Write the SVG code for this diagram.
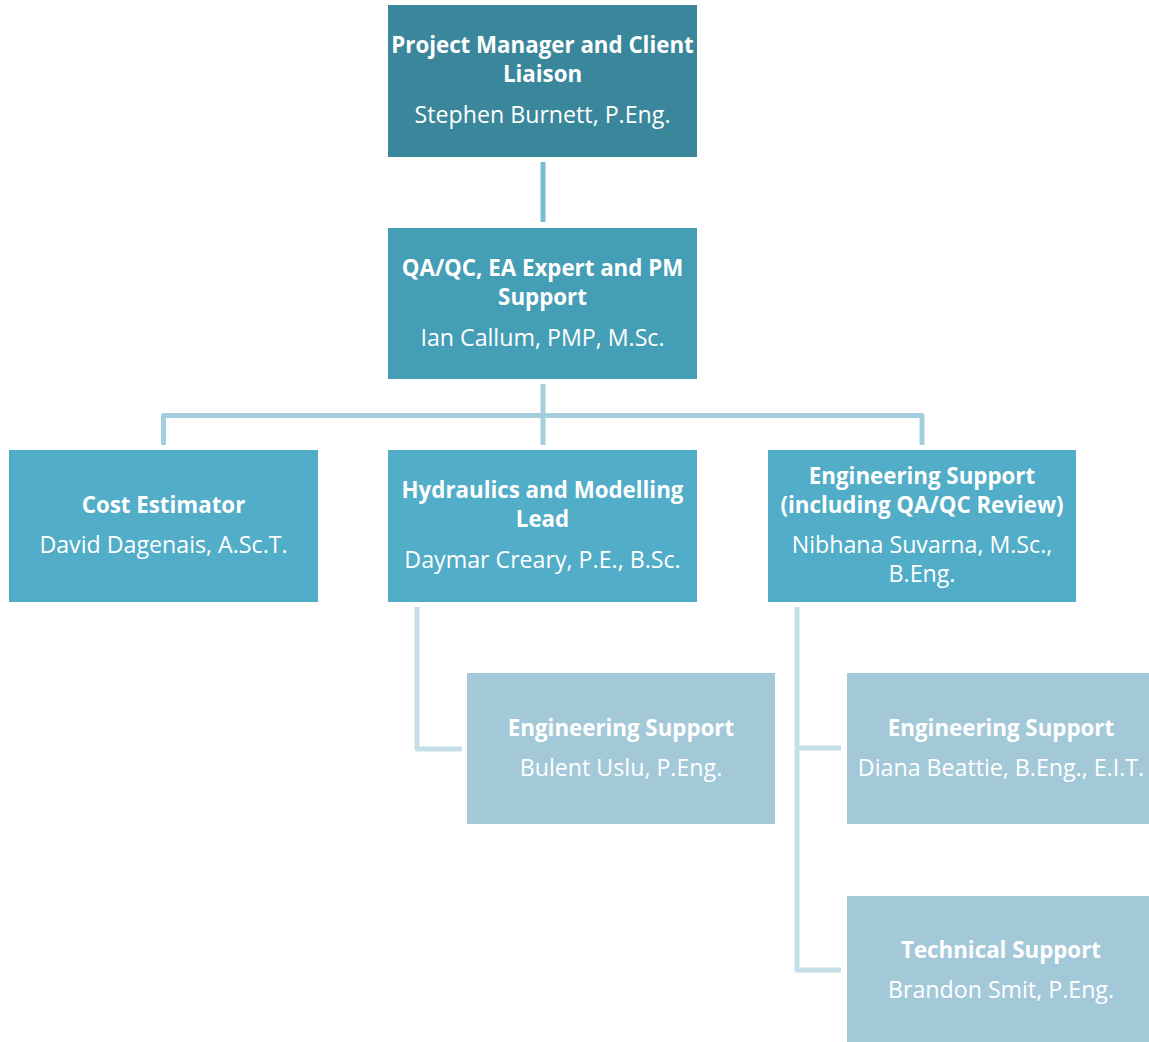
<svg xmlns="http://www.w3.org/2000/svg" width="1149" height="1042" viewBox="0 0 1149 1042">
<style>
.t{font-family:"Open Sans","Liberation Sans",sans-serif;font-size:23.2px;fill:#ffffff;text-anchor:middle}
.b{font-weight:bold;font-size:22.3px}
.c{fill:none;stroke-width:5;stroke-linejoin:round}
</style>
<rect width="1149" height="1042" fill="#ffffff"/>
<g id="connectors">
<line class="c" x1="543" y1="162" x2="543" y2="222" stroke="#79BCD2"/>
<path class="c" d="M543 384 V415.5 M163.5 445 V415.5 H922 V445 M543 415.5 V445" stroke="#A5CEDC"/>
<path class="c" d="M417 607 V749 H462" stroke="#C4DFE8"/>
<path class="c" d="M797 607 V970 H841 M797 748 H841" stroke="#C4DFE8"/>
</g>
<g id="pm">
<rect x="388" y="5" width="309" height="152" fill="#3A879B"/>
<text class="t b" x="542.5" y="53">Project Manager and Client</text>
<text class="t b" x="542.5" y="82">Liaison</text>
<text class="t" x="542.5" y="123">Stephen Burnett, P.Eng.</text>
</g>
<g id="qa">
<rect x="388" y="228" width="309" height="151" fill="#449EB5"/>
<text class="t b" x="542.5" y="276">QA/QC, EA Expert and PM</text>
<text class="t b" x="542.5" y="305">Support</text>
<text class="t" x="542.5" y="346">Ian Callum, PMP, M.Sc.</text>
</g>
<g id="cost">
<rect x="9" y="450" width="309" height="152" fill="#52ADC8"/>
<text class="t b" x="163.5" y="513">Cost Estimator</text>
<text class="t" x="163.5" y="553">David Dagenais, A.Sc.T.</text>
</g>
<g id="hydraulics">
<rect x="388" y="450" width="309" height="152" fill="#52ADC8"/>
<text class="t b" x="542.5" y="498">Hydraulics and Modelling</text>
<text class="t b" x="542.5" y="527">Lead</text>
<text class="t" x="542.5" y="568">Daymar Creary, P.E., B.Sc.</text>
</g>
<g id="engsupport">
<rect x="768" y="450" width="308" height="152" fill="#52ADC8"/>
<text class="t b" x="922" y="484">Engineering Support</text>
<text class="t b" x="922" y="513">(including QA/QC Review)</text>
<text class="t" x="922" y="553">Nibhana Suvarna, M.Sc.,</text>
<text class="t" x="922" y="582">B.Eng.</text>
</g>
<g id="bulent">
<rect x="467" y="673" width="308" height="151" fill="#A3C9D9"/>
<text class="t b" x="621" y="736">Engineering Support</text>
<text class="t" x="621" y="776">Bulent Uslu, P.Eng.</text>
</g>
<g id="diana">
<rect x="847" y="673" width="308" height="151" fill="#A3C9D9"/>
<text class="t b" x="1001" y="736">Engineering Support</text>
<text class="t" x="1001" y="776">Diana Beattie, B.Eng., E.I.T.</text>
</g>
<g id="brandon">
<rect x="847" y="896" width="308" height="151" fill="#A3C9D9"/>
<text class="t b" x="1001" y="958">Technical Support</text>
<text class="t" x="1001" y="998">Brandon Smit, P.Eng.</text>
</g>
</svg>
